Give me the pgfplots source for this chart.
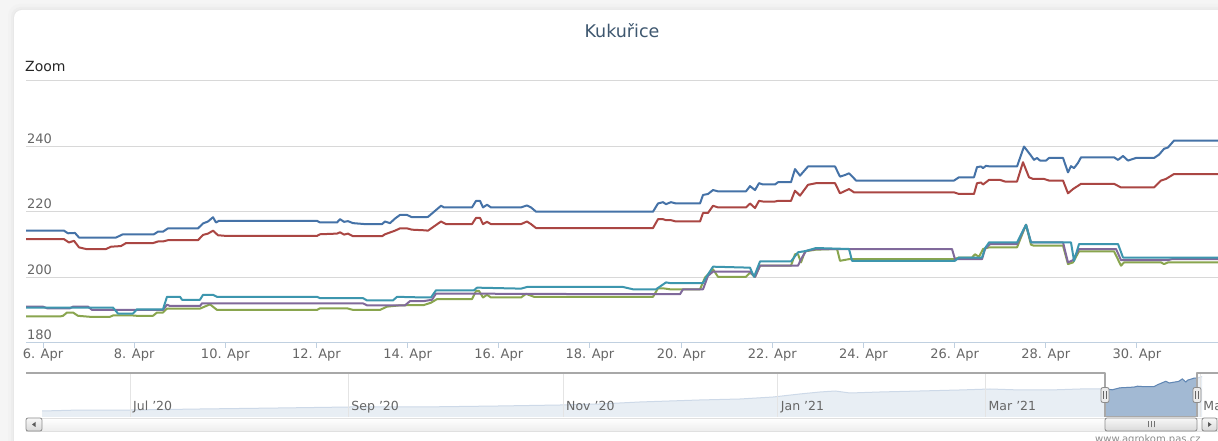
\documentclass[border=0pt]{standalone}
\usepackage{fontspec}
\setmainfont{DejaVu Sans}
\usepackage{pgfplots}
\usepackage{pgfplotstable}
\pgfplotsset{compat=1.18}
\definecolor{hcblue}{HTML}{4572A7}
\definecolor{hcred}{HTML}{AA4643}
\definecolor{hcgreen}{HTML}{89A54E}
\definecolor{hcpurple}{HTML}{80699B}
\definecolor{hccyan}{HTML}{3D96AE}
\definecolor{titlecol}{HTML}{3E576F}
\definecolor{labelcol}{HTML}{666666}
\definecolor{gridcol}{HTML}{D8D8D8}
\definecolor{axiscol}{HTML}{C0D0E0}
\definecolor{navline}{HTML}{A8A8A8}
\definecolor{navgrid}{HTML}{E4E4E4}
\definecolor{navfill}{HTML}{A2B9D3}
\definecolor{navfaint}{HTML}{E8EEF4}
\definecolor{navfaintline}{HTML}{CDD9E8}

% navigator series (days from 1 Jul 2020, price)
\pgfplotstableread{
day val
-25.0 158.2
-14.2 160.7
0 160.7
19.9 163.3
42.6 165.9
62.5 168.4
82.4 168.4
105.1 171.0
122.2 173.5
133.5 176.1
144.9 181.2
161.9 186.3
173.3 188.8
182.7 193.9
190.3 201.6
196.0 206.7
200.3 209.2
204.5 204.1
213.1 206.7
224.4 209.2
235.8 211.8
244.3 214.3
252.8 211.8
261.4 211.8
269.9 214.3
277.0 214.3
277.4 214.3
279.0 212.2
281.2 217.3
285.2 219.1
286.2 221.4
288.2 220.1
290.8 220.1
291.9 225.2
294.2 233.9
295.2 229.6
297.9 233.7
298.9 240.0
299.9 232.1
300.4 236.7
302.2 241.8
303.1 241.8
304.5 246.0
}\navdata

\begin{document}
\begin{tikzpicture}
\useasboundingbox (0,0) rectangle (1218pt,441pt);
\clip (0,0) rectangle (1218pt,441pt);

% page and card
\fill[black!4] (0,0) rectangle (1218pt,441pt);
\fill[black!5, rounded corners=12pt] (8pt,-30pt) rectangle (1250pt,437pt);
\fill[black!7, rounded corners=10pt] (11pt,-30pt) rectangle (1250pt,434pt);
\fill[black!9, rounded corners=9pt] (13pt,-30pt) rectangle (1250pt,432pt);
\fill[white, rounded corners=8pt] (14pt,-30pt) rectangle (1250pt,431pt);

\node[anchor=base, font=\fontsize{17.5}{20}\selectfont, text=titlecol, inner sep=0pt] at (622pt,403pt) {Kukuřice};
\node[anchor=base west, font=\fontsize{14}{16}\selectfont, text=black!85, inner sep=0pt] at (25pt,369pt) {Zoom};

\begin{axis}[
  at={(26pt,98pt)}, anchor=south west,
  scale only axis, width=1192pt, height=262pt,
  xmin=-0.373, xmax=25.778, ymin=180, ymax=260,
  axis x line*=bottom, axis y line*=left,
  x axis line style={axiscol, line width=1pt, -},
  y axis line style={draw=none},
  ytick={180,200,220,240,260}, yticklabels={180,200,220,240,{}},
  ymajorgrids, grid style={gridcol, line width=1pt},
  ytick style={draw=none},
  xtick={0,2,...,24},
  xticklabels={6. Apr,8. Apr,10. Apr,12. Apr,14. Apr,16. Apr,18. Apr,20. Apr,22. Apr,24. Apr,26. Apr,28. Apr,30. Apr},
  xtick style={axiscol, line width=1pt},
  tick align=outside, major tick length=5pt,
  xticklabel style={font=\fontsize{13}{15}\selectfont, text=labelcol, anchor=north, inner sep=0pt, yshift=-0.5pt},
  yticklabel style={font=\fontsize{13}{15}\selectfont, text=labelcol, anchor=south west, inner sep=0pt, xshift=6pt, yshift=3pt},
  every axis plot/.append style={line width=2pt, line join=round, mark=none},
]
% blue
\addplot[hcblue] coordinates {
(-0.373,214.3) (0.461,214.3) (0.548,213.5) (0.702,213.6) (0.790,212.2) (1.602,212.2)
(1.755,213.2) (2.435,213.2) (2.523,214.0) (2.633,214.0) (2.742,215.0) (3.401,215.0)
(3.510,216.5) (3.620,217.1) (3.730,218.4) (3.795,216.8) (3.861,217.3) (6.011,217.3)
(6.077,216.8) (6.450,216.8) (6.516,217.8) (6.604,217.0) (6.691,217.2) (6.801,216.6)
(7.064,216.3) (7.437,216.3) (7.503,217.1) (7.613,216.6) (7.723,218.0) (7.832,219.1)
(7.986,219.1) (8.095,218.4) (8.381,218.4) (8.446,218.5) (8.732,221.9) (8.797,221.4)
(9.412,221.4) (9.500,223.4) (9.587,223.4) (9.653,221.4) (9.741,222.2) (9.829,221.4)
(10.487,221.4) (10.618,222.0) (10.706,221.4) (10.816,220.1) (13.383,220.1) (13.492,222.6)
(13.602,223.0) (13.668,222.4) (13.778,223.0) (13.887,222.6) (14.414,222.6) (14.480,225.2)
(14.589,225.5) (14.699,226.7) (14.809,226.3) (15.423,226.3) (15.511,227.9) (15.621,226.7)
(15.708,228.8) (15.796,228.4) (16.059,228.4) (16.125,229.1) (16.410,229.1) (16.498,233.1)
(16.608,231.1) (16.783,233.9) (17.376,233.9) (17.485,230.8) (17.595,231.3) (17.683,231.8)
(17.771,230.6) (17.837,229.6) (19.986,229.6) (20.096,230.6) (20.425,230.6) (20.491,233.7)
(20.579,233.9) (20.623,233.4) (20.688,234.1) (20.776,233.9) (21.369,233.9) (21.522,240.0)
(21.676,237.2) (21.742,235.9) (21.807,236.5) (21.873,235.7) (22.005,235.7) (22.071,236.5)
(22.378,236.5) (22.487,232.1) (22.553,234.0) (22.619,233.4) (22.707,235.0) (22.773,236.7)
(23.497,236.7) (23.585,235.9) (23.694,237.1) (23.804,235.7) (23.979,236.5) (24.374,236.5)
(24.484,237.5) (24.594,239.3) (24.681,239.7) (24.813,241.8) (25.778,241.8)
};
% red
\addplot[hcred] coordinates {
(-0.373,211.7) (0.461,211.7) (0.570,210.7) (0.680,211.2) (0.790,209.2) (0.943,208.7)
(1.382,208.7) (1.492,209.4) (1.711,209.6) (1.821,210.5) (2.413,210.5) (2.523,211.0)
(2.633,211.0) (2.742,211.4) (3.401,211.4) (3.510,213.0) (3.620,213.4) (3.730,214.3)
(3.839,212.9) (4.015,212.7) (6.011,212.7) (6.077,213.2) (6.450,213.4) (6.516,213.8)
(6.604,213.1) (6.691,213.4) (6.801,212.6) (7.437,212.6) (7.503,213.2) (7.723,214.3)
(7.832,215.0) (7.986,215.0) (8.095,214.6) (8.381,214.4) (8.446,214.3) (8.732,217.1)
(8.841,216.3) (9.412,216.3) (9.500,218.2) (9.587,218.2) (9.653,216.3) (9.741,217.0)
(9.829,216.3) (10.487,216.3) (10.618,217.1) (10.706,216.3) (10.816,215.1) (13.383,215.1)
(13.492,217.8) (13.602,217.8) (13.668,217.5) (13.778,217.5) (13.887,217.1) (14.414,217.1)
(14.480,219.7) (14.589,219.7) (14.699,221.9) (14.809,221.4) (15.423,221.4) (15.511,222.6)
(15.621,221.2) (15.708,223.4) (15.796,223.2) (16.059,223.2) (16.125,223.4) (16.410,223.4)
(16.498,226.5) (16.608,225.0) (16.783,228.3) (16.959,228.8) (17.376,228.8) (17.485,225.7)
(17.683,227.0) (17.793,226.0) (19.986,226.0) (20.096,225.5) (20.425,225.5) (20.491,228.8)
(20.579,229.0) (20.623,228.4) (20.754,229.8) (20.996,229.8) (21.105,229.3) (21.369,229.3)
(21.500,235.2) (21.632,230.6) (21.720,230.1) (21.961,230.1) (22.071,229.6) (22.378,229.6)
(22.487,225.7) (22.597,227.0) (22.773,228.6) (23.497,228.6) (23.650,227.5) (24.374,227.5)
(24.528,229.6) (24.637,230.1) (24.813,231.6) (25.778,231.6)
};
% green
\addplot[hcgreen] coordinates {
(-0.373,188.1) (0.373,188.1) (0.439,188.3) (0.527,189.3) (0.658,189.3) (0.768,188.3)
(1.031,188.0) (1.470,188.0) (1.536,188.4) (1.975,188.4) (2.062,188.3) (2.413,188.3)
(2.501,189.3) (2.633,189.3) (2.720,190.5) (3.444,190.5) (3.664,191.8) (3.817,190.1)
(6.011,190.1) (6.077,190.6) (6.669,190.6) (6.801,190.1) (7.393,190.1) (7.547,191.1)
(7.832,191.5) (8.359,191.6) (8.512,192.3) (8.644,193.4) (9.412,193.4) (9.500,195.9)
(9.565,195.9) (9.653,193.9) (9.741,194.7) (9.829,193.9) (10.487,193.9) (10.597,195.0)
(10.772,194.1) (13.383,194.1) (13.492,196.7) (13.602,196.7) (13.756,196.4) (14.414,196.4)
(14.524,200.0) (14.699,202.5) (14.809,200.2) (15.423,200.2) (15.511,201.5) (15.621,200.2)
(15.730,203.6) (16.410,203.6) (16.498,207.1) (16.564,207.1) (16.630,204.6) (16.718,208.0)
(16.959,208.5) (17.420,208.7) (17.485,205.1) (17.683,205.6) (19.986,205.6) (20.096,206.1)
(20.381,206.1) (20.447,207.1) (20.535,206.3) (20.623,208.7) (20.754,209.2) (21.369,209.2)
(21.566,216.1) (21.676,210.0) (21.742,209.7) (22.378,209.7) (22.487,204.1) (22.597,204.6)
(22.729,208.0) (23.497,208.0) (23.650,203.6) (23.716,204.6) (24.528,204.6) (24.594,204.1)
(24.681,204.6) (25.778,204.6)
};
% purple
\addplot[hcpurple] coordinates {
(-0.373,191.1) (0,191.1) (0.088,190.6) (0.592,190.6) (0.658,191.1) (0.987,191.1)
(1.075,190.1) (2.633,190.1) (2.720,191.7) (2.786,191.3) (3.444,191.3) (3.488,192.1)
(7.020,192.1) (7.108,191.5) (7.942,191.5) (8.052,192.8) (8.359,192.8) (8.534,193.2)
(8.622,195.1) (12.725,194.9) (13.975,194.9) (14.041,196.4) (14.480,196.4) (14.589,200.5)
(14.699,201.8) (15.511,201.8) (15.621,200.2) (15.730,203.6) (16.564,203.6) (16.630,205.6)
(16.739,208.1) (16.959,208.7) (19.942,208.7) (20.008,205.6) (20.601,205.6) (20.667,208.7)
(20.776,210.2) (21.369,210.2) (21.566,216.1) (21.676,210.7) (22.378,210.7) (22.487,204.6)
(22.597,205.3) (22.729,208.7) (23.541,208.7) (23.650,205.3) (24.681,205.3) (24.769,205.6)
(25.778,205.6)
};
% cyan
\addplot[hccyan] coordinates {
(-0.373,190.8) (1.536,190.8) (1.645,189.0) (1.975,189.0) (2.062,190.3) (2.633,190.3)
(2.720,194.1) (3.006,194.1) (3.050,193.2) (3.444,193.2) (3.510,194.7) (3.730,194.7)
(3.817,194.1) (6.011,194.1) (6.077,193.7) (7.020,193.7) (7.108,193.0) (7.679,193.0)
(7.766,194.1) (8.359,193.9) (8.512,193.9) (8.622,196.1) (9.456,196.1) (9.522,196.9)
(10.487,196.6) (10.618,197.1) (12.725,197.1) (12.944,196.4) (13.449,196.4) (13.668,198.5)
(13.756,198.3) (14.480,198.3) (14.546,200.0) (14.699,203.3) (15.511,203.0) (15.599,200.2)
(15.730,204.9) (16.410,204.9) (16.564,207.7) (16.739,208.1) (16.959,209.0) (17.683,208.7)
(17.749,205.1) (20.008,205.1) (20.096,206.1) (20.601,206.1) (20.667,208.9) (20.754,210.7)
(21.369,210.7) (21.566,216.1) (21.676,210.7) (22.553,210.7) (22.619,205.1) (22.729,210.2)
(23.585,210.2) (23.694,206.1) (25.778,206.1)
};
\end{axis}

% navigator
\begin{axis}[
  at={(42pt,24pt)}, anchor=south west,
  scale only axis, width=1160pt, height=44pt,
  xmin=-25.0, xmax=304.5, ymin=142.9, ymax=255.1,
  axis on top,
  axis line style={draw=none},
  ytick=\empty,
  xtick={0,62,123,184,243,304},
  xticklabels={Jul '20,Sep '20,Nov '20,Jan '21,Mar '21,May '21},
  xmajorgrids, grid style={navgrid, line width=1pt},
  tick style={draw=none}, major tick length=0pt,
  xticklabel style={font=\fontsize{12.5}{14}\selectfont, text=labelcol, anchor=base west, inner sep=0pt, xshift=3pt, yshift=6pt},
]
% whole range, faint (outside the selected zone)
\addplot[draw=none, fill=navfaint] table[x=day,y=val] {\navdata} \closedcycle;
\addplot[navfaintline, line width=1pt, mark=none] table[x=day,y=val] {\navdata};
% selected zone
\addplot[draw=none, fill=navfill, restrict x to domain=277:303.1] table[x=day,y=val] {\navdata} \closedcycle;
\addplot[hcblue!85, line width=1pt, mark=none, restrict x to domain=277:303.1] table[x=day,y=val] {\navdata};
\end{axis}

% navigator outline
\draw[navline, line width=2pt, line join=round] (26pt,68pt) -- (1105pt,68pt) -- (1105pt,24pt) -- (1197pt,24pt) -- (1197pt,68pt) -- (1218pt,68pt);

% scrollbar
\shade[top color=white, bottom color=black!7] (26pt,10pt) rectangle (1218pt,23pt);
\draw[black!12, line width=0.8pt] (26pt,10pt) rectangle (1218pt,23pt);
\shade[top color=black!3, bottom color=black!15, draw=black!45, line width=0.8pt, rounded corners=2pt] (26pt,10pt) rectangle (42pt,23pt);
\fill[black!65] (32pt,16.5pt) -- (35.5pt,19pt) -- (35.5pt,14pt) -- cycle;
\shade[top color=black!3, bottom color=black!15, draw=black!45, line width=0.8pt, rounded corners=2pt] (1202pt,10pt) rectangle (1217pt,23pt);
\fill[black!65] (1211.5pt,16.5pt) -- (1208pt,19pt) -- (1208pt,14pt) -- cycle;
\shade[top color=black!3, bottom color=black!15, draw=black!45, line width=0.8pt, rounded corners=2pt] (1105pt,10pt) rectangle (1197pt,23pt);
\draw[black!55, line width=0.8pt] (1148pt,13.5pt) -- (1148pt,19.5pt) (1151pt,13.5pt) -- (1151pt,19.5pt) (1154pt,13.5pt) -- (1154pt,19.5pt);

% handles
\foreach \hx in {1105,1197} {
  \filldraw[fill=black!8, draw=black!45, line width=0.8pt, rounded corners=2pt] (\hx pt-4pt,38.5pt) rectangle (\hx pt+4pt,53.5pt);
  \draw[black!60, line width=0.7pt] (\hx pt-1.2pt,42pt) -- (\hx pt-1.2pt,50pt) (\hx pt+1.2pt,42pt) -- (\hx pt+1.2pt,50pt);
}

\node[anchor=base west, font=\fontsize{10}{12}\selectfont, text=black!45, inner sep=0pt] at (1095pt,-1.5pt) {www.agrokom.pas.cz};
\end{tikzpicture}
\end{document}
